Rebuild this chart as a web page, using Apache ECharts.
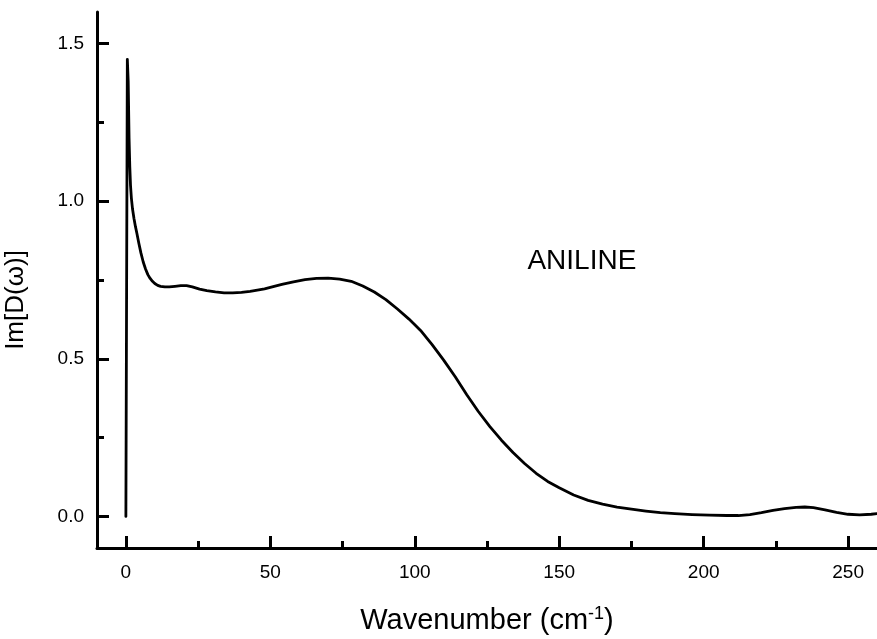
<!DOCTYPE html>
<html>
<head>
<meta charset="utf-8">
<script src="https://cdn.jsdelivr.net/npm/echarts@6/dist/echarts.min.js"></script>
<style>
  html, body { margin: 0; padding: 0; background: #fff; }
  #chart { width: 877px; height: 639px; }
</style>
</head>
<body>
<div id="chart"></div>
<script>
// Imaginary part of the reduced spectral density of liquid aniline
const wavenumbers = [0, 0.5, 0.8, 1.1, 1.35, 1.6, 1.9, 2.3, 2.8, 3.3, 3.8, 4.5, 5.2, 6, 6.8, 7.6, 8.4, 9.2, 10, 11, 12, 13.5, 15, 17, 19, 21, 23, 25.5, 28, 31, 34, 37, 40, 43, 48, 54, 58, 62, 66, 70, 74, 78, 82, 86, 90, 94, 98, 102, 106, 110, 114, 118, 122, 126, 130, 134, 138, 142, 146, 150, 155, 160, 165, 170, 175, 180, 185, 190, 196, 202, 208, 212, 216, 220, 224, 228, 232, 235, 238, 242, 246, 250, 254, 258, 260];
const imD = [0, 1.45, 1.38, 1.2, 1.11, 1.05, 1.01, 0.975, 0.945, 0.92, 0.898, 0.866, 0.836, 0.807, 0.785, 0.767, 0.755, 0.746, 0.739, 0.733, 0.73, 0.728, 0.728, 0.73, 0.732, 0.732, 0.728, 0.721, 0.716, 0.712, 0.709, 0.709, 0.711, 0.714, 0.722, 0.736, 0.744, 0.751, 0.755, 0.756, 0.753, 0.746, 0.731, 0.712, 0.688, 0.658, 0.626, 0.59, 0.545, 0.496, 0.443, 0.386, 0.333, 0.285, 0.242, 0.203, 0.168, 0.137, 0.111, 0.091, 0.068, 0.051, 0.039, 0.03, 0.023, 0.017, 0.012, 0.009, 0.006, 0.004, 0.003, 0.003, 0.006, 0.012, 0.019, 0.025, 0.029, 0.03, 0.028, 0.021, 0.013, 0.007, 0.005, 0.007, 0.009];

const xMajorTicks = [0, 50, 100, 150, 200, 250];
const xMinorTicks = [25, 75, 125, 175, 225];
const yMajorTicks = [0, 0.5, 1.0, 1.5];
const yMinorTicks = [0.25, 0.75, 1.25];
const sampleName = 'ANILINE';

const FONT = '"Liberation Sans", Arial, Helvetica, sans-serif';
const INK = '#000';

const chart = echarts.init(document.getElementById('chart'), null, { renderer: 'canvas' });

const baseX = { type: 'value', min: -10, max: 260, splitLine: { show: false }, gridIndex: 0 };
const baseY = { type: 'value', min: -0.1, max: 1.6, splitLine: { show: false }, gridIndex: 0 };

chart.setOption({
  animation: false,
  backgroundColor: '#fff',
  grid: { left: 97, right: 0, top: 12, bottom: 91, containLabel: false, outerBoundsMode: 'none' },
  xAxis: [
    Object.assign({}, baseX, {
      position: 'bottom',
      axisLine: { show: true, onZero: false, lineStyle: { color: INK, width: 3 } },
      axisTick: { show: true, inside: true, length: 12, customValues: xMajorTicks, lineStyle: { color: INK, width: 3 } },
      axisLabel: { show: true, customValues: xMajorTicks, margin: 15, color: INK, fontFamily: FONT, fontSize: 19 },
      name: 'Wavenumber (cm{sup|-1})',
      nameLocation: 'middle',
      nameGap: 57,
      nameTextStyle: {
        color: INK, fontFamily: FONT, fontSize: 29,
        rich: { sup: { fontSize: 18, fontFamily: FONT, color: INK, padding: [0, 0, 14, 0] } }
      }
    }),
    Object.assign({}, baseX, {
      position: 'bottom',
      axisLine: { show: false, onZero: false },
      axisTick: { show: true, inside: true, length: 7, customValues: xMinorTicks, lineStyle: { color: INK, width: 3 } },
      axisLabel: { show: false }
    })
  ],
  yAxis: [
    Object.assign({}, baseY, {
      position: 'left',
      axisLine: { show: true, onZero: false, lineStyle: { color: INK, width: 3 } },
      axisTick: { show: true, inside: true, length: 12, customValues: yMajorTicks, lineStyle: { color: INK, width: 3 } },
      axisLabel: { show: true, customValues: yMajorTicks, margin: 13, color: INK, fontFamily: FONT, fontSize: 19,
        formatter: v => v.toFixed(1) },
      name: 'Im[D(ω)]',
      nameLocation: 'middle',
      nameGap: 68,
      nameTextStyle: { color: INK, fontFamily: FONT, fontSize: 26, padding: [0, 40, 0, 0] }
    }),
    Object.assign({}, baseY, {
      position: 'left',
      axisLine: { show: false, onZero: false },
      axisTick: { show: true, inside: true, length: 7, customValues: yMinorTicks, lineStyle: { color: INK, width: 3 } },
      axisLabel: { show: false }
    })
  ],
  series: [{
    type: 'line',
    xAxisIndex: 0,
    yAxisIndex: 0,
    data: wavenumbers.map((w, i) => [w, imD[i]]),
    showSymbol: false,
    smooth: false,
    clip: true,
    lineStyle: { color: INK, width: 2.8, join: 'round', cap: 'round' }
  }]
});

// sample label placed in data coordinates
const labelPos = chart.convertToPixel({ xAxisIndex: 0, yAxisIndex: 0 }, [139, 0.81]);
chart.setOption({
  graphic: [{
    type: 'text',
    x: labelPos[0],
    y: labelPos[1],
    style: { text: sampleName, fill: INK, font: '28px ' + FONT, textAlign: 'left', textVerticalAlign: 'middle' }
  }]
});
</script>
</body>
</html>
